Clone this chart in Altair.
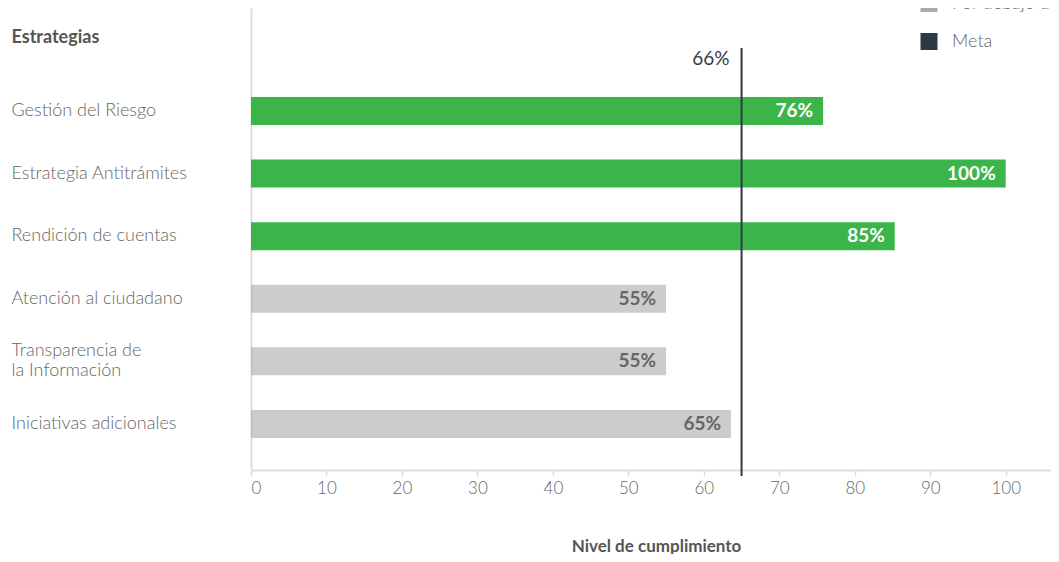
import altair as alt
import pandas as pd

categorias = ["Gestión del Riesgo", "Estrategia Antitrámites", "Rendición de cuentas",
              "Atención al ciudadano", "Transparencia de\nla Información", "Iniciativas adicionales"]
valores = [75.8, 100, 85.3, 55, 55, 63.6]
etiquetas = ["76%", "100%", "85%", "55%", "55%", "65%"]
estados = ["Cumple la meta", "Cumple la meta", "Cumple la meta",
           "Por debajo de la meta", "Por debajo de la meta", "Por debajo de la meta"]
meta_valor = [65]
meta_etiqueta = ["66%"]
ticks_x = [0, 10, 20, 30, 40, 50, 60, 70, 80, 90, 100]

df = pd.DataFrame({"cat": categorias, "valor": valores, "etiqueta": etiquetas, "estado": estados})
meta = pd.DataFrame({"valor": meta_valor, "etiqueta": meta_etiqueta})

FONT = "Lato"
GREEN = "#3bb54a"
GRAY = "#aaaaaa"
DARK = "#2d3a44"

xscale = alt.Scale(domain=[0, 106], nice=False, zero=True)
yscale = alt.Scale(domain=categorias, paddingInner=0.553, paddingOuter=0.967, align=0.735)

x_enc = alt.X("valor:Q", scale=xscale,
              axis=alt.Axis(values=ticks_x, title="Nivel de cumplimiento", grid=False,
                            domainColor="#dddddd", domainWidth=2, tickColor="#dddddd",
                            tickSize=6, tickWidth=1.5, labelFontSize=17, labelColor="#666666",
                            labelFont=FONT, labelFontWeight=300, labelPadding=4,
                            titleFont=FONT, titleFontSize=17,
                            titleFontWeight="bold", titleColor="#555555", titleX=405,
                            titleY=76, titleBaseline="middle"))
y_enc = alt.Y("cat:N", scale=yscale,
              axis=alt.Axis(title="Estrategias", ticks=False, tickSize=0, labelAlign="left",
                            labelPadding=240, labelFontSize=18, labelColor="#666666",
                            labelFont=FONT, labelFontWeight=300,
                            labelExpr="split(datum.label, '\\n')",
                            labelLineHeight=20,
                            labelOffset={"condition": {"test": "indexof(datum.value, '\\n') >= 0",
                                                       "value": -10}, "value": 0},
                            domainColor="#dddddd", domainWidth=2,
                            grid=False, titleAngle=0, titleAlign="left", titleX=-240,
                            titleY=29, titleBaseline="middle", titleFont=FONT,
                            titleFontSize=18, titleFontWeight="bold", titleColor="#555555"))

bars = alt.Chart(df).mark_bar().encode(
    x=x_enc,
    y=y_enc,
    color=alt.Color("estado:N",
                    scale=alt.Scale(domain=["Cumple la meta", "Por debajo de la meta", "Meta"],
                                    range=[GREEN, GRAY, DARK]),
                    legend=alt.Legend(title=None, orient="none", legendX=669, legendY=-51.5,
                                      symbolType="square", symbolSize=289, symbolStrokeWidth=0,
                                      labelFont=FONT, labelFontSize=18, labelFontWeight=300,
                                      labelColor="#666666",
                                      labelOffset=14, rowPadding=20, padding=0)),
    opacity=alt.condition("datum.estado == 'Cumple la meta'", alt.value(1), alt.value(0.6)),
)

labels = alt.Chart(df).mark_text(align="right", baseline="middle", dx=-10, font=FONT,
                                 fontSize=19, fontWeight="bold").encode(
    x=alt.X("valor:Q", scale=xscale),
    y=alt.Y("cat:N", scale=yscale),
    text="etiqueta:N",
    color=alt.condition("datum.estado == 'Cumple la meta'", alt.value("white"), alt.value("#666666")),
)

rule = alt.Chart(meta).mark_rule(color=DARK, strokeWidth=2).encode(
    x=alt.X("valor:Q", scale=xscale),
    y=alt.value(40),
    y2=alt.value(468),
)

meta_text = alt.Chart(meta).mark_text(align="right", baseline="middle", dx=-12, font=FONT,
                                      fontSize=19, color="#333d47").encode(
    x=alt.X("valor:Q", scale=xscale),
    y=alt.value(51),
    text="etiqueta:N",
)

chart = alt.layer(bars, labels, rule, meta_text).properties(
    width=800, height=462,
    autosize=alt.AutoSizeParams(type="none"),
    padding={"left": 243, "top": 0, "right": 0, "bottom": 84},
).configure_view(stroke=None)

chart.save("out.html", embed_options={"renderer": "svg", "actions": False})
